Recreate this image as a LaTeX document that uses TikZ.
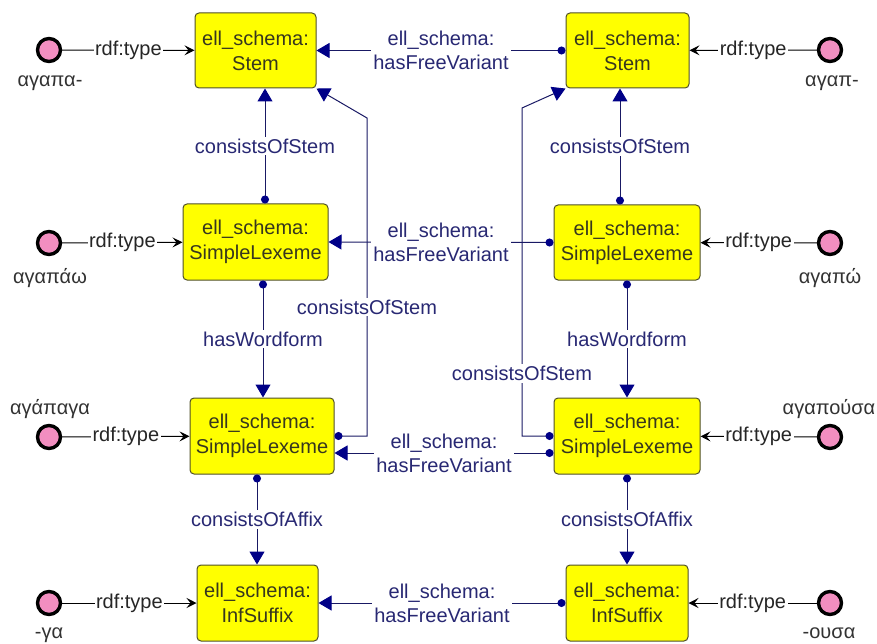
\documentclass[tikz,border=0pt]{standalone}
\usepackage{fontspec}
\setmainfont{Liberation Sans}
\usetikzlibrary{arrows.meta,calc}

\definecolor{clsfill}{RGB}{255,255,0}
\definecolor{clsdraw}{RGB}{80,80,40}
\definecolor{clstext}{RGB}{55,55,30}
\definecolor{navyline}{RGB}{25,25,100}
\definecolor{navyhead}{RGB}{0,0,135}
\definecolor{navytext}{RGB}{40,40,115}
\definecolor{instfill}{RGB}{242,142,192}
\definecolor{greektext}{RGB}{50,50,50}

\tikzset{
  cls/.style={draw=clsdraw, line width=1pt, fill=clsfill, rounded corners=4pt,
    align=center, text=clstext, font=\fontsize{20}{25}\selectfont, inner sep=0pt},
  inst/.style={circle, draw=black, line width=3.4pt, fill=instfill,
    minimum size=23pt, inner sep=0pt},
  instlabel/.style={font=\fontsize{20}{22}\selectfont, text=greektext, inner sep=0pt},
  rel/.style={draw=navyline, line width=1pt,
    {Circle[length=8pt,color=navyhead]}-{Triangle[length=13pt,width=15pt,color=navyhead]}},
  rellabel/.style={fill=white, text=navytext, font=\fontsize{20}{24}\selectfont,
    align=center, inner sep=2pt},
  typeedge/.style={draw=black, line width=1pt,
    -{Stealth[length=10pt,width=10pt,inset=4pt]}},
  typelabel/.style={fill=white, text=black!85, font=\fontsize{20}{22}\selectfont, inner sep=1.5pt},
}

\begin{document}
\begin{tikzpicture}[x=1pt,y=-1pt]
\useasboundingbox (0,0) rectangle (877,644);

% ---- class boxes, left column ----
\node[cls, minimum width=121pt, minimum height=75pt] (stemL) at (255.5,50.5) {ell\_schema:\\Stem};
\node[cls, minimum width=145pt, minimum height=76pt] (slL1) at (255.5,242) {ell\_schema:\\SimpleLexeme};
\node[cls, minimum width=144pt, minimum height=76pt] (slL2) at (262,436) {ell\_schema:\\SimpleLexeme};
\node[cls, minimum width=121pt, minimum height=76pt] (infL) at (257.5,603) {ell\_schema:\\InfSuffix};

% ---- class boxes, right column ----
\node[cls, minimum width=123pt, minimum height=75pt] (stemR) at (627.5,50.5) {ell\_schema:\\Stem};
\node[cls, minimum width=146pt, minimum height=75pt] (slR1) at (627,242.5) {ell\_schema:\\SimpleLexeme};
\node[cls, minimum width=146pt, minimum height=76pt] (slR2) at (627,436) {ell\_schema:\\SimpleLexeme};
\node[cls, minimum width=122pt, minimum height=76pt] (infR) at (627,603) {ell\_schema:\\InfSuffix};

% ---- instances ----
\node[inst] (iL1) at (49,50) {};
\node[inst] (iL2) at (49,243) {};
\node[inst] (iL3) at (49,437) {};
\node[inst] (iL4) at (49,603) {};
\node[inst] (iR1) at (830,50) {};
\node[inst] (iR2) at (830,243) {};
\node[inst] (iR3) at (830,437) {};
\node[inst] (iR4) at (830,603) {};

\node[instlabel] (tL1) at (50,76) [anchor=north] {αγαπα-};
\node[instlabel] (tL2) at (50,268) [anchor=north] {αγαπάω};
\node[instlabel] (tL3) at (50,419) [anchor=south] {αγάπαγα};
\node[instlabel] (tL4) at (49,628) [anchor=north] {-γα};
\node[instlabel] (tR1) at (832,76) [anchor=north] {αγαπ-};
\node[instlabel] (tR2) at (830,268) [anchor=north] {αγαπώ};
\node[instlabel] (tR3) at (829,419) [anchor=south] {αγαπούσα};
\node[instlabel] (tR4) at (829,628) [anchor=north] {-ουσα};

% ---- rdf:type edges ----
\draw[typeedge] (iL1) -- node[typelabel]{rdf:type} (stemL);
\draw[typeedge] (iL2) -- node[typelabel]{rdf:type} (slL1);
\draw[typeedge] (iL3) -- node[typelabel]{rdf:type} (slL2);
\draw[typeedge] (iL4) -- node[typelabel]{rdf:type} (infL);
\draw[typeedge] (iR1) -- node[typelabel]{rdf:type} (stemR);
\draw[typeedge] (iR2) -- node[typelabel]{rdf:type} (slR1);
\draw[typeedge] (iR3) -- node[typelabel]{rdf:type} (slR2);
\draw[typeedge] (iR4) -- node[typelabel]{rdf:type} (infR);

% ---- hasFreeVariant edges ----
\draw[rel] (stemR.west) -- node[rellabel]{ell\_schema:\\hasFreeVariant} (stemL.east);
\draw[rel] (slR1.west) -- node[rellabel]{ell\_schema:\\hasFreeVariant} (slL1.east);
\draw[rel] ($(slR2.west)+(0,17)$) -- node[rellabel]{ell\_schema:\\hasFreeVariant} ($(slL2.east)+(0,17)$);
\draw[rel] (infR.west) -- node[rellabel]{ell\_schema:\\hasFreeVariant} (infL.east);

% ---- vertical edges, left ----
\draw[rel] ($(slL1.north)+(9.5,0)$) -- node[rellabel]{consistsOfStem} ($(stemL.south)+(9.5,0)$);
\draw[rel] ($(slL1.south)+(7.5,0)$) -- node[rellabel]{hasWordform} ($(slL2.north)+(1,0)$);
\draw[rel] ($(slL2.south)+(-5,0)$) -- node[rellabel]{consistsOfAffix} ($(infL.north)+(-0.5,0)$);

% ---- vertical edges, right ----
\draw[rel] ($(slR1.north)+(-7,0)$) -- node[rellabel]{consistsOfStem} ($(stemR.south)+(-7.5,0)$);
\draw[rel] (slR1.south) -- node[rellabel]{hasWordform} (slR2.north);
\draw[rel] (slR2.south) -- node[rellabel]{consistsOfAffix} (infR.north);

% ---- consistsOfStem detours ----
\coordinate (bLa) at (367,436);
\coordinate (bLb) at (367,118);
\draw[rel] (slL2.east) -- (bLa) -- node[rellabel, pos=0.406]{consistsOfStem} (bLb) -- (stemL.south east);

\coordinate (bRa) at (522,436);
\coordinate (bRb) at (522,108);
\draw[rel] (slR2.west) -- (bRa) -- node[rellabel, pos=0.19]{consistsOfStem} (bRb) -- (stemR.south west);
\end{tikzpicture}
\end{document}
